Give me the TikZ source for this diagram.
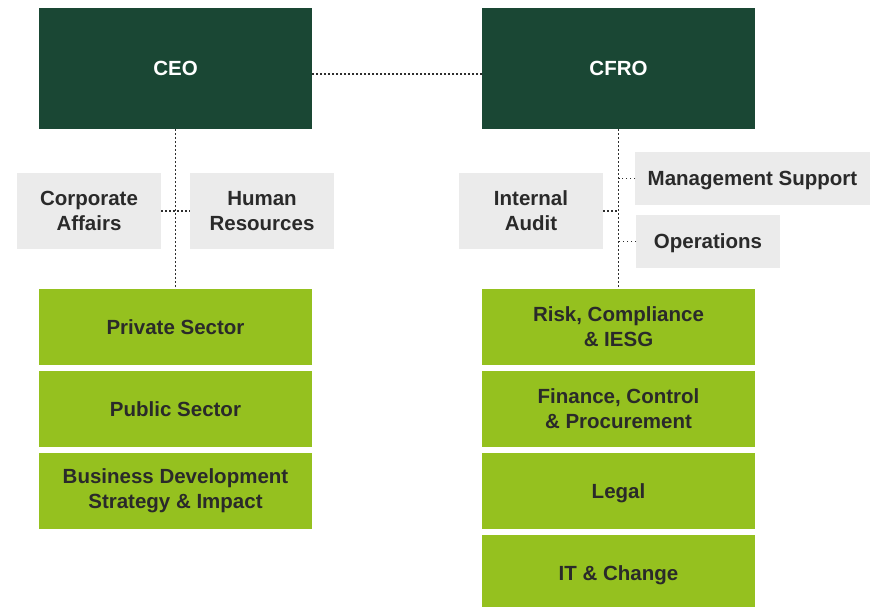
\documentclass[tikz,border=0pt]{standalone}
\usepackage{fontspec}
\setmainfont{Liberation Sans}
\definecolor{dkgreen}{HTML}{1A4734}
\definecolor{ltgreen}{HTML}{95C11F}
\definecolor{ltgray}{HTML}{EBEBEB}
\definecolor{txt}{HTML}{2A2A2A}
\definecolor{dotc}{HTML}{2E2E2E}
\tikzset{
  base/.style={rectangle, inner sep=0pt, outer sep=0pt, anchor=north west, align=center,
    font=\fontsize{20.5}{25}\selectfont\bfseries},
  oneline/.style={text height=14.7pt, text depth=0pt},
  topbox/.style={base, oneline, fill=dkgreen, text=white, minimum width=273pt, minimum height=121pt},
  unitbox/.style={base, fill=ltgreen, text=txt, minimum width=273pt, minimum height=76pt},
  staffbox/.style={base, fill=ltgray, text=txt},
  dots/.style={draw=dotc, line width=1.5pt, dash pattern=on 1.5pt off 2.5pt}
}
\begin{document}
\begin{tikzpicture}[x=1pt,y=-1pt]
\useasboundingbox (0,0) rectangle (870,606);
\node[topbox] (ceo) at (39,8) {CEO};
\node[topbox] (cfro) at (482,8) {CFRO};
\node[staffbox, minimum width=144pt, minimum height=76pt] (ca) at (17,173) {Corporate\\Affairs};
\node[staffbox, minimum width=144pt, minimum height=76pt] (hr) at (190,173) {Human\\Resources};
\node[staffbox, minimum width=144pt, minimum height=76pt] (ia) at (459,173) {Internal\\Audit};
\node[staffbox, oneline, minimum width=235pt, minimum height=53pt] (ms) at (635,152) {Management Support};
\node[staffbox, oneline, minimum width=144pt, minimum height=53pt] (ops) at (636,215) {Operations};
\node[unitbox, oneline] (priv) at (39,289) {Private Sector};
\node[unitbox, oneline] (pub) at (39,371) {Public Sector};
\node[unitbox] (bd) at (39,453) {Business Development\\Strategy \& Impact};
\node[unitbox] (risk) at (482,289) {Risk, Compliance\\\& IESG};
\node[unitbox] (fin) at (482,371) {Finance, Control\\\& Procurement};
\node[unitbox, oneline] (legal) at (482,453) {Legal};
\node[unitbox, oneline] (it) at (482,535) {IT \& Change};
\coordinate (mid) at (0,74);
\draw[dots] (ceo.east |- mid) -- (cfro.west |- mid);
\draw[dots] (ceo.south) -- (priv.north);
\draw[dots] (ca.east) -- (hr.west);
\draw[dots] (cfro.south) -- (risk.north);
\draw[dots] (ia.east) -- (ia.east -| cfro.south);
\draw[dots] (ms.west) -- (ms.west -| cfro.south);
\draw[dots] (ops.west) -- (ops.west -| cfro.south);
\end{tikzpicture}
\end{document}
